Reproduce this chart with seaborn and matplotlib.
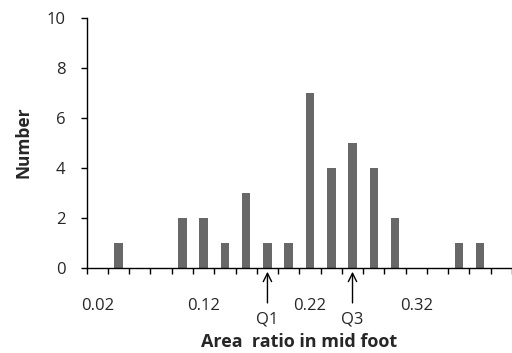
import numpy as np
import pandas as pd
import matplotlib.pyplot as plt
import seaborn as sns

# bins of the area ratio (step 0.02) and how many feet fall in each
ratio_bins = ['0.02', '0.04', '0.06', '0.08', '0.10', '0.12', '0.14', '0.16', '0.18', '0.20',
              '0.22', '0.24', '0.26', '0.28', '0.30', '0.32', '0.34', '0.36', '0.38', '0.40']
counts = [0, 1, 0, 0, 2, 2, 1, 3, 1, 1, 7, 4, 5, 4, 2, 0, 0, 1, 1, 0]
shown_labels = ['0.02', '0.12', '0.22', '0.32']
quartile_names = ['Q1', 'Q3']
quartile_bins = ['0.18', '0.26']

df = pd.DataFrame({'ratio': ratio_bins, 'count': counts})

sns.set_style('ticks')
plt.rcParams['font.family'] = ['Open Sans', 'DejaVu Sans']

fig = plt.figure(figsize=(5.12, 3.53), dpi=100)
ax = fig.add_axes([86.7 / 512, (353 - 268) / 353, (512 - 86.7) / 512, 250 / 353])

sns.barplot(data=df, x='ratio', y='count', order=ratio_bins, color='#686868',
            saturation=1, width=0.4, linewidth=0, ax=ax)

ax.set_xlim(-0.5, len(ratio_bins) - 0.5)
ax.set_ylim(0, 10)
ax.set_yticks(range(0, 11, 2))

# labels only every fifth bin, tick marks between bins
ax.set_xticks([ratio_bins.index(s) for s in shown_labels], shown_labels)
ax.set_xticks(np.arange(-0.5, len(ratio_bins), 1), minor=True)
ax.tick_params(axis='x', which='major', length=0, pad=21.5)
ax.tick_params(axis='x', which='minor', length=4.3, width=1, direction='out', color='black')
ax.tick_params(axis='y', length=4.3, width=1, direction='out', color='black', pad=11)
ax.tick_params(labelsize=12)

for s in ['top', 'right']:
    ax.spines[s].set_visible(False)
for s in ['left', 'bottom']:
    ax.spines[s].set_linewidth(1)
    ax.spines[s].set_color('black')

ax.set_xlabel('Area  ratio in mid foot', fontweight='bold', fontsize=13)
ax.xaxis.set_label_coords(0.5, (268 - 333) / 250)
ax.set_ylabel('Number', fontweight='bold', fontsize=12.5, va='center')
ax.yaxis.set_label_coords((23 - 86.7) / 425.3, 0.505)

for name, b in zip(quartile_names, quartile_bins):
    ax.annotate(name, xy=(ratio_bins.index(b), -0.15), xytext=(0, -40),
                textcoords='offset pixels', ha='center', va='top', fontsize=12,
                annotation_clip=False,
                arrowprops=dict(arrowstyle='->', color='black', lw=1,
                                shrinkA=4, shrinkB=0, mutation_scale=15))

fig.savefig('out.png', dpi=100)
